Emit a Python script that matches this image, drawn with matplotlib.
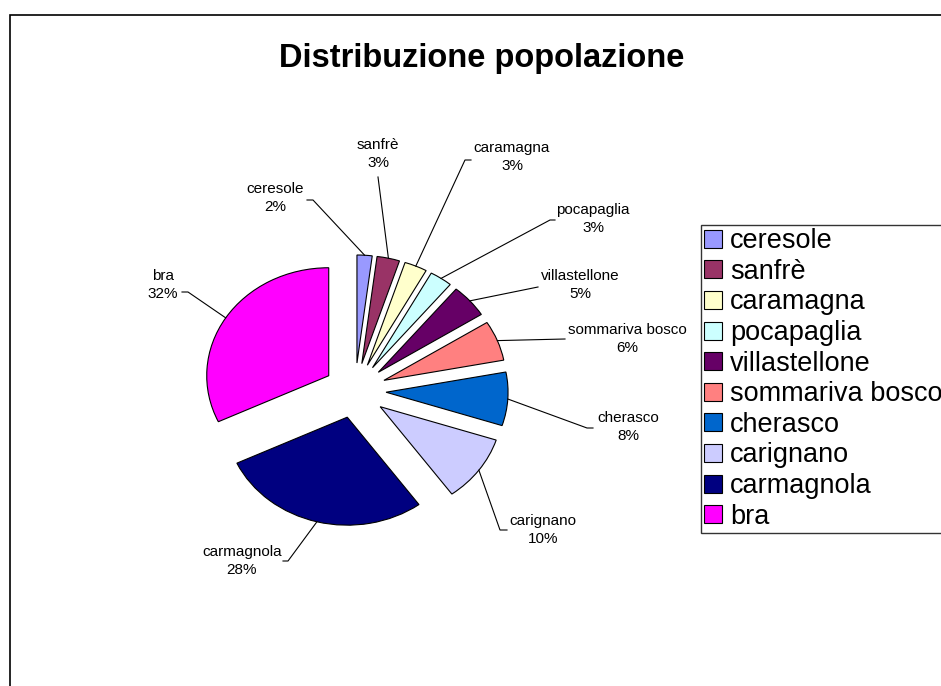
import matplotlib
matplotlib.use('Agg')
import numpy as np
import matplotlib.pyplot as plt
from matplotlib.patches import Rectangle

plt.rcParams['font.family'] = ['Liberation Sans', 'DejaVu Sans']

# dati
comuni = ['ceresole', 'sanfrè', 'caramagna', 'pocapaglia', 'villastellone',
          'sommariva bosco', 'cherasco', 'carignano', 'carmagnola', 'bra']
percentuali = [2, 3, 3, 3, 5, 6, 8, 10, 28, 32]
colori = ['#9999FF', '#993366', '#FFFFCC', '#CCFFFF', '#660066',
          '#FF8080', '#0066CC', '#CCCCFF', '#000080', '#FF00FF']

# posizione etichette e linee guida (pixel dell'immagine)
pos_etichette = [(275, 198), (378, 154), (512, 157), (593, 219), (580, 285),
                 (627, 339), (628, 427), (543, 530), (242, 561), (163, 285)]
linee_guida = [[(313, 200), (307, 200)], [(378, 177)], [(465, 160), (471, 160)],
               [(550, 220), (555, 220)], [(538, 287)], [(565, 339)],
               [(587, 428), (593, 428)], [(500, 530), (507, 530)],
               [(288, 561), (283, 561)], [(188, 292), (182, 292)]]

W, H = 941, 686
cx_px, cy_px = 355, 390.5
rx_px, ry_px = 122, 108   # la torta originale e' leggermente schiacciata
half = 230


def px(x, y):
    # pixel -> coordinate dati della torta
    return (x - cx_px) / rx_px, (cy_px - y) / ry_px


fig = plt.figure(figsize=(W / 100, H / 100), dpi=100)
ax = fig.add_axes([(cx_px - half) / W, (H - cy_px - half) / H, 2 * half / W, 2 * half / H])

wedges, _ = ax.pie(percentuali, colors=colori, startangle=90, counterclock=False,
                   explode=[0.255] * len(percentuali), radius=1,
                   wedgeprops=dict(edgecolor='black', linewidth=0.8))
ax.set_aspect('auto')
ax.set_xlim(-half / rx_px, half / rx_px)
ax.set_ylim(-half / ry_px, half / ry_px)
ax.axis('off')

totale = sum(percentuali)
for w, nome, v, txt, guida in zip(wedges, comuni, percentuali, pos_etichette, linee_guida):
    th = np.deg2rad((w.theta1 + w.theta2) / 2)
    x0 = w.center[0] + w.r * np.cos(th)
    y0 = w.center[1] + w.r * np.sin(th)
    pts = [(x0, y0)] + [px(*p) for p in guida]
    xs, ys = zip(*pts)
    ax.plot(xs, ys, color='black', lw=0.8, clip_on=False)
    tx, ty = px(*txt)
    ax.text(tx, ty, f'{nome}\n{v / totale * 100:.0f}%', ha='center', va='center',
            fontsize=11, linespacing=1.4)

fig.text(481.5 / W, 1 - 58 / H, 'Distribuzione popolazione', ha='center', va='center',
         fontsize=23.5, fontweight='bold')

leg = fig.legend(wedges, comuni, loc='upper left', bbox_to_anchor=(701 / W, 1 - 225 / H),
                 fontsize=19.5, frameon=True, fancybox=False, edgecolor='black',
                 handlelength=0.65, handleheight=0.65, handletextpad=0.3,
                 labelspacing=0.17, borderpad=0.12, borderaxespad=0)
leg.get_frame().set_linewidth(1.0)

fig.add_artist(Rectangle((10 / W, -0.1), 2, (H - 15) / H + 0.1, transform=fig.transFigure,
                         fill=False, edgecolor='black', lw=1.2))

fig.savefig('out.png', dpi=100)
